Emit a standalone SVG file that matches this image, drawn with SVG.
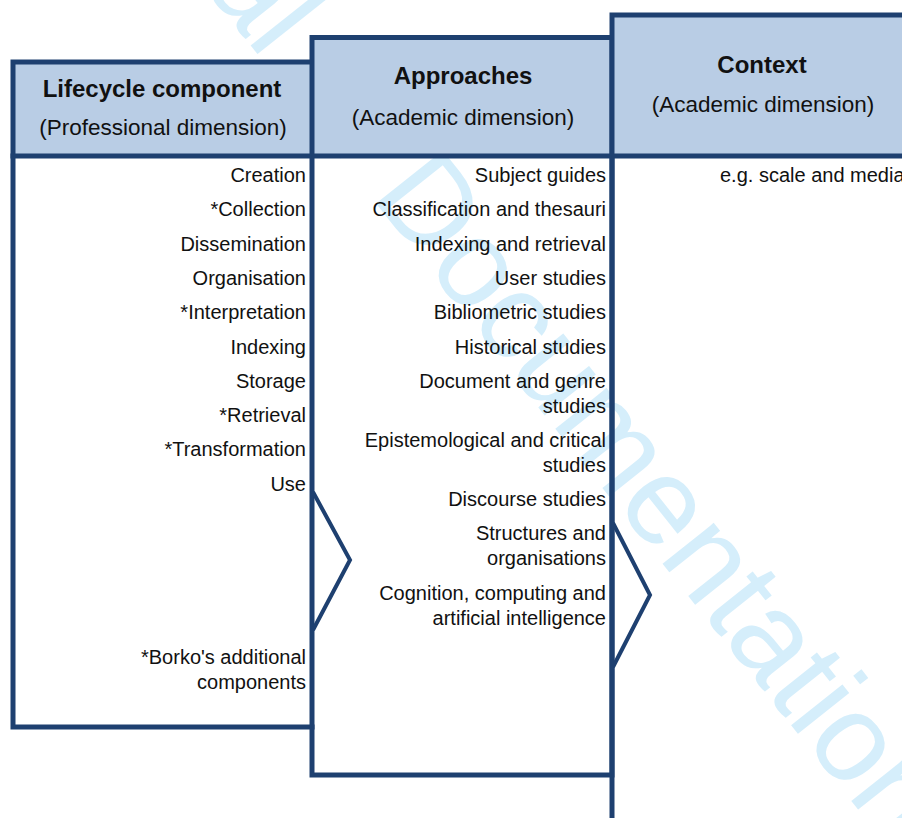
<svg xmlns="http://www.w3.org/2000/svg" width="902" height="818" viewBox="0 0 902 818">
<style>
  .wm { font-family: "Liberation Sans", Arial, sans-serif; font-size: 124px; fill: #d5eefb; }
  .hdr { fill: #b9cde5; stroke: none; }
  .ln { fill: none; stroke: #1e4070; stroke-width: 5; stroke-linejoin: miter; stroke-linecap: square; }
  .chev { fill: none; stroke: #1e4070; stroke-width: 4; stroke-linejoin: miter; }
  .t { font-family: "Liberation Sans", Arial, sans-serif; font-size: 20px; fill: #111; text-anchor: end; }
  .h1 { font-family: "Liberation Sans", Arial, sans-serif; font-size: 24px; font-weight: bold; fill: #111; text-anchor: middle; }
  .h2 { font-family: "Liberation Sans", Arial, sans-serif; font-size: 22.5px; fill: #111; text-anchor: middle; }
</style>
<rect x="0" y="0" width="902" height="818" fill="#ffffff"/>
<text class="wm" transform="translate(9.4,-257.6) rotate(51.5)" x="0" y="0">Journal of Documentation</text>

<g id="lifecycle">
  <rect class="hdr" x="13" y="62" width="299" height="94"/>
  <path class="ln" d="M312,62 H13 V727 H312"/>
  <text class="h1" x="162" y="97">Lifecycle component</text>
  <text class="h2" x="163" y="135">(Professional dimension)</text>
  <text class="t" x="306" y="182">Creation</text>
  <text class="t" x="306" y="216">*Collection</text>
  <text class="t" x="306" y="251">Dissemination</text>
  <text class="t" x="306" y="285">Organisation</text>
  <text class="t" x="306" y="319">*Interpretation</text>
  <text class="t" x="306" y="354">Indexing</text>
  <text class="t" x="306" y="388">Storage</text>
  <text class="t" x="306" y="422">*Retrieval</text>
  <text class="t" x="306" y="456">*Transformation</text>
  <text class="t" x="306" y="491">Use</text>
  <text class="t" x="306" y="664">*Borko's additional</text>
  <text class="t" x="306" y="689">components</text>
</g>

<g id="approaches">
  <rect class="hdr" x="312" y="37.5" width="300" height="118.5"/>
  <rect class="ln" x="312" y="37.5" width="300" height="737.5"/>
  <text class="h1" x="463" y="84">Approaches</text>
  <text class="h2" x="463" y="125">(Academic dimension)</text>
  <text class="t" x="606" y="182">Subject guides</text>
  <text class="t" x="606" y="216">Classification and thesauri</text>
  <text class="t" x="606" y="251">Indexing and retrieval</text>
  <text class="t" x="606" y="285">User studies</text>
  <text class="t" x="606" y="319">Bibliometric studies</text>
  <text class="t" x="606" y="354">Historical studies</text>
  <text class="t" x="606" y="388">Document and genre</text>
  <text class="t" x="606" y="413">studies</text>
  <text class="t" x="606" y="447">Epistemological and critical</text>
  <text class="t" x="606" y="472">studies</text>
  <text class="t" x="606" y="506">Discourse studies</text>
  <text class="t" x="606" y="540">Structures and</text>
  <text class="t" x="606" y="565">organisations</text>
  <text class="t" x="606" y="600">Cognition, computing and</text>
  <text class="t" x="606" y="625">artificial intelligence</text>
</g>

<g id="context">
  <rect class="hdr" x="612" y="15" width="295" height="141"/>
  <path class="ln" d="M910,15 H612 V825"/>
  <text class="h1" x="762" y="73">Context</text>
  <text class="h2" x="763" y="112">(Academic dimension)</text>
  <text class="t" x="720" y="182" style="text-anchor:start">e.g. scale and media</text>
</g>

<path class="ln" d="M13,156 H910"/>

<g id="connectors">
  <path class="chev" d="M313,492 L350,560 L313,630"/>
  <path class="chev" d="M613,523 L650,595 L613,667"/>
</g>
</svg>
